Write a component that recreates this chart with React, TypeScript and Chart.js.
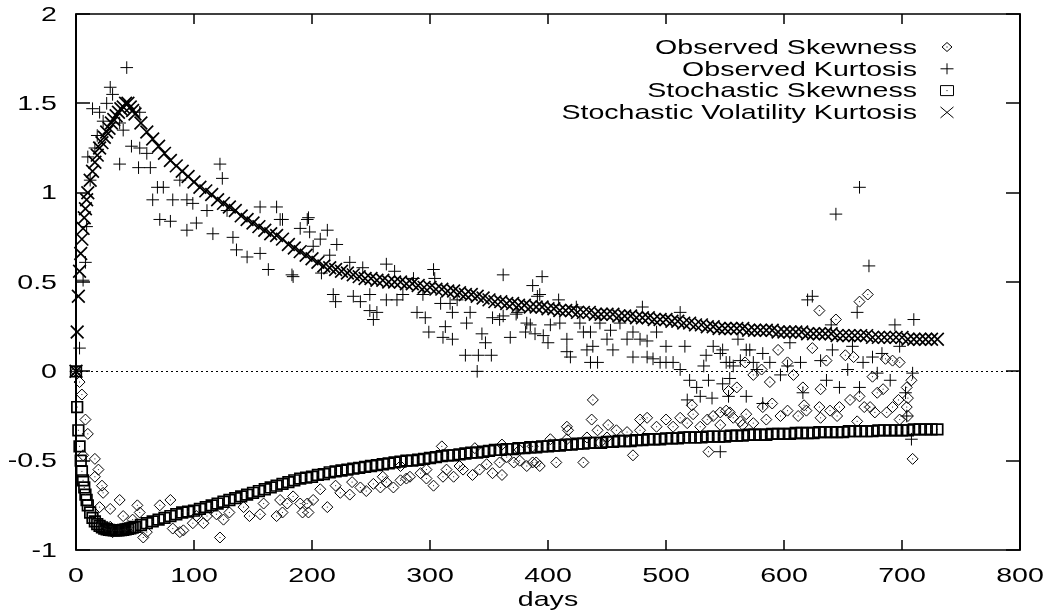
import React, { useEffect, useRef } from "react";
import { Chart, registerables } from "chart.js";

Chart.register(...registerables);

// ---------- axis ticks / labels ----------
const X_TICKS = [0, 100, 200, 300, 400, 500, 600, 700, 800];
const X_TICK_LABELS = ["0", "100", "200", "300", "400", "500", "600", "700", "800"];
const Y_TICKS = [-1, -0.5, 0, 0.5, 1, 1.5, 2];
const Y_TICK_LABELS = ["-1", "-0.5", "0", "0.5", "1", "1.5", "2"];
const X_TITLE = "days";
const SERIES_LABELS = [
  "Observed Skewness",
  "Observed Kurtosis",
  "Stochastic Skewness",
  "Stochastic Volatility Kurtosis",
];

// ---------- observed skewness (diamonds) ----------
const obsSkewDays = [
  0, 3, 5, 6, 8, 10, 16, 16, 19, 20,
  22, 23, 29, 29, 31, 37, 40, 43, 48, 52,
  54, 57, 60, 71, 80, 82, 88, 91, 99, 102,
  108, 111, 119, 122, 125, 130, 142, 147, 156, 159,
  170, 173, 175, 179, 184, 190, 192, 196, 197, 201,
  207, 213, 220, 224, 232, 234, 241, 246, 252, 258,
  260, 263, 269, 275, 275, 280, 283, 292, 297, 297,
  303, 310, 311, 314, 320, 325, 328, 336, 338, 342,
  348, 353, 359, 361, 361, 365, 371, 376, 376, 382,
  387, 387, 390, 393, 402, 407, 416, 416, 417, 430,
  433, 437, 438, 442, 444, 450, 451, 458, 467, 472,
  478, 478, 484, 492, 500, 506, 512, 518, 522, 523,
  529, 535, 536, 540, 546, 546, 551, 553, 554, 557,
  560, 563, 565, 567, 568, 574, 574, 581, 582, 585,
  588, 590, 595, 597, 603, 603, 608, 612, 616, 617,
  619, 624, 630, 630, 631, 631, 636, 639, 644, 645,
  647, 652, 656, 659, 662, 664, 664, 668, 671, 673,
  675, 677, 679, 684, 686, 687, 692, 692, 697, 698,
  698, 704, 704, 705, 705, 708, 709,
];
const obsSkewVals = [
  0.0, -0.06, -0.13, -0.47, -0.27, -0.35, -0.49, -0.59, -0.55, -0.76,
  -0.64, -0.68, -0.77, -0.87, -0.9, -0.72, -0.81, -0.89, -0.83, -0.75,
  -0.79, -0.93, -0.9, -0.75, -0.72, -0.88, -0.9, -0.89, -0.85, -0.81,
  -0.85, -0.81, -0.8, -0.93, -0.83, -0.79, -0.76, -0.81, -0.8, -0.74,
  -0.81, -0.72, -0.79, -0.74, -0.7, -0.74, -0.79, -0.74, -0.79, -0.72,
  -0.66, -0.76, -0.64, -0.68, -0.69, -0.62, -0.65, -0.67, -0.63, -0.65,
  -0.59, -0.62, -0.65, -0.61, -0.53, -0.6, -0.59, -0.57, -0.55, -0.6,
  -0.64, -0.42, -0.59, -0.55, -0.59, -0.53, -0.55, -0.58, -0.43, -0.55,
  -0.52, -0.57, -0.51, -0.41, -0.58, -0.48, -0.51, -0.5, -0.44, -0.53,
  -0.51, -0.42, -0.51, -0.53, -0.38, -0.51, -0.31, -0.38, -0.33, -0.51,
  -0.37, -0.27, -0.16, -0.33, -0.4, -0.37, -0.3, -0.33, -0.34, -0.47,
  -0.27, -0.33, -0.26, -0.31, -0.27, -0.31, -0.26, -0.29, -0.19, -0.24,
  -0.31, -0.27, -0.45, -0.25, -0.23, -0.3, -0.22, -0.11, -0.23, -0.26,
  -0.09, -0.28, -0.3, 0.05, -0.24, -0.02, -0.29, 0.01, -0.2, -0.27,
  -0.06, -0.18, 0.12, -0.25, 0.05, -0.22, -0.02, -0.25, -0.09, -0.19,
  -0.22, 0.13, 0.34, -0.2, -0.1, -0.26, 0.06, -0.22, 0.29, -0.25,
  -0.2, 0.09, -0.16, 0.08, -0.28, 0.39, -0.14, -0.2, 0.43, -0.2,
  -0.03, -0.23, -0.12, -0.1, 0.07, -0.23, 0.06, -0.2, -0.16, 0.05,
  -0.27, -0.09, -0.2, -0.15, -0.25, -0.05, -0.49,
];

// ---------- observed kurtosis (plus signs) ----------
const obsKurtDays = [
  0, 3, 6, 8, 9, 10, 12, 14, 16, 18,
  20, 23, 26, 29, 31, 37, 37, 40, 43, 47,
  53, 54, 54, 60, 63, 65, 69, 71, 74, 80,
  82, 88, 94, 94, 99, 102, 111, 116, 122, 124,
  128, 133, 136, 145, 156, 156, 163, 170, 173, 175,
  183, 184, 190, 196, 197, 198, 201, 207, 208, 213,
  215, 218, 220, 221, 232, 235, 241, 243, 249, 249,
  252, 255, 263, 263, 270, 272, 277, 286, 289, 294,
  296, 299, 303, 304, 309, 311, 313, 317, 319, 319,
  323, 330, 331, 334, 340, 341, 344, 347, 352, 353,
  359, 362, 362, 368, 373, 374, 381, 382, 385, 387,
  389, 391, 393, 395, 396, 400, 402, 409, 410, 416,
  416, 419, 424, 427, 430, 433, 436, 436, 438, 442,
  444, 450, 453, 455, 461, 467, 472, 472, 478, 480,
  484, 484, 489, 492, 495, 500, 500, 506, 512, 512,
  516, 518, 520, 526, 529, 532, 534, 536, 539, 540,
  546, 546, 548, 548, 551, 553, 554, 554, 557, 561,
  563, 568, 568, 571, 574, 577, 582, 582, 588, 597,
  603, 605, 614, 616, 620, 624, 631, 636, 640, 641,
  644, 647, 654, 658, 662, 664, 664, 667, 672, 675,
  679, 683, 690, 694, 698, 703, 704, 708, 709, 710,
];
const obsKurtVals = [
  0.0, 0.13, 0.51, 0.61, 0.81, 1.2, 1.07, 1.47, 1.25, 1.32,
  1.45, 1.4, 1.5, 1.59, 1.55, 1.39, 1.16, 1.35, 1.7, 1.26,
  1.14, 1.45, 1.25, 1.22, 1.14, 0.96, 1.03, 0.85, 1.03, 0.84,
  0.96, 1.07, 0.79, 0.96, 0.94, 0.83, 0.9, 0.77, 1.16, 1.08,
  0.9, 0.75, 0.68, 0.64, 0.92, 0.66, 0.57, 0.92, 0.85, 0.85,
  0.54, 0.53, 0.8, 0.85, 0.86, 0.78, 0.7, 0.74, 0.55, 0.79,
  0.65, 0.43, 0.39, 0.71, 0.61, 0.42, 0.39, 0.58, 0.43, 0.34,
  0.29, 0.33, 0.6, 0.4, 0.56, 0.4, 0.43, 0.52, 0.33, 0.43,
  0.3, 0.22, 0.57, 0.52, 0.38, 0.19, 0.25, 0.38, 0.18, 0.33,
  0.4, 0.09, 0.27, 0.33, 0.0, 0.09, 0.21, 0.16, 0.09, 0.3,
  0.29, 0.54, 0.31, 0.19, 0.32, 0.33, 0.22, 0.27, 0.26, 0.48,
  0.21, 0.42, 0.43, 0.53, 0.2, 0.16, 0.26, 0.4, 0.27, 0.18,
  0.11, 0.08, 0.36, 0.27, 0.22, 0.12, 0.22, 0.05, 0.14, 0.05,
  0.27, 0.18, 0.23, 0.12, 0.27, 0.18, 0.22, 0.08, 0.18, 0.36,
  0.17, 0.08, 0.07, 0.22, 0.05, 0.14, 0.05, 0.05, 0.33, 0.01,
  0.14, -0.16, -0.05, -0.09, -0.14, 0.03, 0.09, -0.05, -0.15, 0.14,
  0.1, -0.45, -0.07, 0.12, 0.05, -0.14, 0.05, -0.04, 0.03, 0.18,
  0.06, 0.12, -0.14, 0.12, 0.05, 0.01, 0.1, -0.18, 0.05, -0.02,
  0.03, 0.16, 0.05, -0.12, 0.4, 0.42, 0.06, -0.05, 0.26, 0.12,
  0.88, -0.09, 0.01, 0.14, 0.33, 1.03, -0.09, 0.05, 0.59, 0.08,
  -0.01, 0.1, -0.05, 0.26, 0.14, -0.12, -0.25, -0.38, -0.01, 0.29,
];

// ---------- stochastic model curves ----------
const modelEarlyDays = [
  0, 1, 2, 3, 4, 5, 6, 7, 8, 9, 10, 12, 14, 16, 18, 20, 22, 24, 26, 28,
  30, 32, 34, 36, 38, 40, 42, 44, 46, 48, 50,
];
const modelLateDays = Array.from({ length: 136 }, (_, i) => 55 + 5 * i); // 55 .. 730
const modelDays = [...modelEarlyDays, ...modelLateDays];

const stochSkewVals = [
  // days 0..50
  0, -0.2, -0.33, -0.42, -0.5, -0.56, -0.61, -0.65, -0.69, -0.72, -0.75,
  -0.79, -0.82, -0.84, -0.855, -0.865, -0.873, -0.88, -0.884, -0.887, -0.889,
  -0.89, -0.89, -0.89, -0.889, -0.887, -0.885, -0.882, -0.879, -0.875, -0.871,
  // days 55..730
  -0.86, -0.85, -0.84, -0.83, -0.82, -0.81, -0.8, -0.79, -0.785, -0.78,
  -0.77, -0.76, -0.75, -0.74, -0.73, -0.72, -0.71, -0.7, -0.69, -0.68,
  -0.67, -0.66, -0.65, -0.64, -0.63, -0.62, -0.61, -0.6, -0.595, -0.59,
  -0.58, -0.575, -0.565, -0.56, -0.555, -0.55, -0.545, -0.54, -0.535, -0.53,
  -0.525, -0.52, -0.515, -0.51, -0.505, -0.5, -0.5, -0.495, -0.49, -0.485,
  -0.48, -0.475, -0.47, -0.47, -0.465, -0.46, -0.455, -0.455, -0.45, -0.445,
  -0.44, -0.44, -0.435, -0.435, -0.43, -0.43, -0.425, -0.425, -0.42, -0.42,
  -0.415, -0.415, -0.41, -0.41, -0.405, -0.405, -0.4, -0.4, -0.4, -0.395,
  -0.395, -0.39, -0.39, -0.39, -0.385, -0.385, -0.38, -0.38, -0.38, -0.375,
  -0.375, -0.375, -0.37, -0.37, -0.37, -0.37, -0.365, -0.365, -0.365, -0.365,
  -0.36, -0.36, -0.36, -0.355, -0.355, -0.355, -0.355, -0.35, -0.35, -0.35,
  -0.35, -0.345, -0.345, -0.345, -0.345, -0.34, -0.34, -0.34, -0.34, -0.34,
  -0.335, -0.335, -0.335, -0.335, -0.335, -0.33, -0.33, -0.33, -0.33, -0.33,
  -0.33, -0.325, -0.325, -0.325, -0.325, -0.325,
];

const stochKurtVals = [
  // days 0..50
  0, 0.22, 0.42, 0.56, 0.66, 0.74, 0.8, 0.86, 0.91, 0.96, 1.0,
  1.07, 1.12, 1.17, 1.21, 1.25, 1.28, 1.31, 1.34, 1.36, 1.39,
  1.41, 1.43, 1.45, 1.47, 1.48, 1.5, 1.5, 1.48, 1.46, 1.44,
  // days 55..730
  1.39, 1.34, 1.3, 1.26, 1.22, 1.18, 1.15, 1.12, 1.09, 1.06,
  1.03, 1.01, 0.99, 0.96, 0.94, 0.92, 0.9, 0.87, 0.85, 0.83,
  0.81, 0.79, 0.77, 0.76, 0.74, 0.71, 0.69, 0.67, 0.65, 0.63,
  0.61, 0.59, 0.58, 0.57, 0.56, 0.55, 0.54, 0.53, 0.52, 0.52,
  0.51, 0.51, 0.5, 0.5, 0.5, 0.49, 0.49, 0.48, 0.47, 0.47,
  0.46, 0.46, 0.45, 0.45, 0.44, 0.43, 0.43, 0.42, 0.41, 0.4,
  0.39, 0.39, 0.38, 0.38, 0.37, 0.37, 0.36, 0.36, 0.36, 0.35,
  0.35, 0.34, 0.34, 0.34, 0.33, 0.33, 0.33, 0.32, 0.32, 0.32,
  0.32, 0.31, 0.31, 0.31, 0.3, 0.3, 0.3, 0.29, 0.29, 0.29,
  0.28, 0.28, 0.27, 0.27, 0.26, 0.26, 0.25, 0.25, 0.24, 0.24,
  0.24, 0.24, 0.24, 0.23, 0.23, 0.23, 0.23, 0.23, 0.22, 0.22,
  0.22, 0.22, 0.22, 0.21, 0.21, 0.21, 0.21, 0.21, 0.2, 0.2,
  0.2, 0.2, 0.2, 0.2, 0.19, 0.19, 0.19, 0.19, 0.19, 0.19,
  0.18, 0.18, 0.18, 0.18, 0.18, 0.18,
];

// ---------- drawing helpers ----------
const FONT = '21px "Liberation Sans", Arial, Helvetica, sans-serif';
const SX = 1.36; // the reference text is horizontally stretched

function stretchedText(
  ctx: CanvasRenderingContext2D,
  text: string,
  x: number,
  y: number,
  align: CanvasTextAlign,
  baseline: CanvasTextBaseline
) {
  ctx.save();
  ctx.translate(x, y);
  ctx.scale(SX, 1);
  ctx.font = FONT;
  ctx.fillStyle = "#000";
  ctx.textAlign = align;
  ctx.textBaseline = baseline;
  ctx.fillText(text, 0, 0);
  ctx.restore();
}

function legendSymbol(ctx: CanvasRenderingContext2D, kind: number, x: number, y: number) {
  ctx.save();
  ctx.strokeStyle = "#000";
  ctx.fillStyle = "#000";
  ctx.lineWidth = 1;
  ctx.beginPath();
  if (kind === 0) {
    ctx.moveTo(x - 5, y);
    ctx.lineTo(x, y - 4.5);
    ctx.lineTo(x + 5, y);
    ctx.lineTo(x, y + 4.5);
    ctx.closePath();
    ctx.stroke();
    ctx.fillRect(x - 0.5, y - 0.5, 1, 1);
  } else if (kind === 1) {
    ctx.moveTo(x - 6.5, y);
    ctx.lineTo(x + 6.5, y);
    ctx.moveTo(x, y - 5.5);
    ctx.lineTo(x, y + 5.5);
    ctx.stroke();
  } else if (kind === 2) {
    ctx.rect(x - 6.5, y - 5, 13, 10);
    ctx.stroke();
    ctx.fillRect(x - 0.5, y - 0.5, 1, 1);
  } else {
    ctx.moveTo(x - 6.5, y - 5.5);
    ctx.lineTo(x + 6.5, y + 5.5);
    ctx.moveTo(x + 6.5, y - 5.5);
    ctx.lineTo(x - 6.5, y + 5.5);
    ctx.stroke();
  }
  ctx.restore();
}

const gnuplotPlugin = {
  id: "gnuplotFrame",
  beforeDatasetsDraw(chart: any) {
    const { ctx, chartArea: a, scales } = chart;
    const y0 = Math.round(scales.y.getPixelForValue(0)) + 0.5;
    ctx.save();
    ctx.strokeStyle = "#000";
    ctx.lineWidth = 1;
    ctx.setLineDash([2, 3]);
    ctx.beginPath();
    ctx.moveTo(a.left, y0);
    ctx.lineTo(a.right, y0);
    ctx.stroke();
    ctx.restore();
  },
  afterDatasetsDraw(chart: any) {
    const { ctx, chartArea: a, scales } = chart;
    const xs = scales.x;
    const ys = scales.y;

    // centre dots of diamonds and squares
    ctx.save();
    ctx.fillStyle = "#222";
    [0, 2].forEach((di) => {
      chart.getDatasetMeta(di).data.forEach((pt: any) => {
        ctx.fillRect(pt.x - 0.5, pt.y - 0.5, 1, 1);
      });
    });
    ctx.restore();

    // frame
    ctx.save();
    ctx.strokeStyle = "#000";
    ctx.lineWidth = 2;
    ctx.beginPath();
    ctx.moveTo(a.left, a.top);
    ctx.lineTo(a.left, a.bottom);
    ctx.moveTo(a.right, a.top);
    ctx.lineTo(a.right, a.bottom);
    ctx.stroke();
    ctx.lineWidth = 1.6;
    ctx.beginPath();
    ctx.moveTo(a.left - 1, a.top);
    ctx.lineTo(a.right + 1, a.top);
    ctx.moveTo(a.left - 1, a.bottom);
    ctx.lineTo(a.right + 1, a.bottom);
    ctx.stroke();

    // inward ticks (mirrored)
    ctx.lineWidth = 1.5;
    ctx.beginPath();
    X_TICKS.forEach((v) => {
      const px = Math.round(xs.getPixelForValue(v));
      ctx.moveTo(px, a.bottom);
      ctx.lineTo(px, a.bottom - 10);
      ctx.moveTo(px, a.top);
      ctx.lineTo(px, a.top + 10);
    });
    Y_TICKS.forEach((v) => {
      const py = Math.round(ys.getPixelForValue(v));
      ctx.moveTo(a.left, py);
      ctx.lineTo(a.left + 14, py);
      ctx.moveTo(a.right, py);
      ctx.lineTo(a.right - 14, py);
    });
    ctx.stroke();
    ctx.restore();

    // tick labels
    X_TICKS.forEach((v, i) => {
      stretchedText(ctx, X_TICK_LABELS[i], xs.getPixelForValue(v), a.bottom + 32, "center", "alphabetic");
    });
    Y_TICKS.forEach((v, i) => {
      stretchedText(ctx, Y_TICK_LABELS[i], a.left - 19, ys.getPixelForValue(v) + 1, "right", "middle");
    });

    // axis title
    stretchedText(ctx, X_TITLE, (a.left + a.right) / 2, a.bottom + 56, "center", "alphabetic");

    // legend (text right-aligned, symbol on the right)
    SERIES_LABELS.forEach((lab, i) => {
      const cy = a.top + 33 + i * 21.8;
      stretchedText(ctx, lab, a.right - 103, cy + 1, "right", "middle");
      legendSymbol(ctx, i, a.right - 73, cy);
    });
  },
};

function pts(days: number[], vals: number[]) {
  return days.map((d, i) => ({ x: d, y: vals[i] }));
}

export default function App() {
  const ref = useRef<HTMLCanvasElement | null>(null);

  useEffect(() => {
    if (!ref.current) return;
    const common = {
      showLine: false,
      borderColor: "#000",
      backgroundColor: "rgba(0,0,0,0)",
      borderWidth: 1,
      clip: false as any,
    };
    const chart = new Chart(ref.current, {
      type: "scatter",
      data: {
        datasets: [
          {
            ...common,
            label: SERIES_LABELS[0],
            data: pts(obsSkewDays, obsSkewVals),
            pointStyle: "rectRot",
            pointRadius: 5.5,
            order: 3,
          },
          {
            ...common,
            label: SERIES_LABELS[1],
            data: pts(obsKurtDays, obsKurtVals),
            pointStyle: "cross",
            pointRadius: 6.3,
            order: 2,
          },
          {
            ...common,
            label: SERIES_LABELS[2],
            data: pts(modelDays, stochSkewVals),
            pointStyle: "rect",
            pointRadius: 7.5,
            borderWidth: 1.7,
            order: 1,
          },
          {
            ...common,
            label: SERIES_LABELS[3],
            data: pts(modelDays, stochKurtVals),
            pointStyle: "crossRot",
            pointRadius: 9,
            borderWidth: 1.7,
            order: 0,
          },
        ],
      },
      options: {
        responsive: false,
        animation: false,
        devicePixelRatio: 1,
        events: [],
        layout: { padding: { left: 76, top: 14, right: 29, bottom: 63 } },
        scales: {
          x: { type: "linear", min: 0, max: 800, display: false },
          y: { type: "linear", min: -1, max: 2, display: false },
        },
        plugins: {
          legend: { display: false },
          tooltip: { enabled: false },
        },
      },
      plugins: [gnuplotPlugin],
    });
    return () => chart.destroy();
  }, []);

  return (
    <div style={{ position: "absolute", left: 0, top: 0, width: 1049, height: 613, background: "#fff" }}>
      <canvas ref={ref} width={1049} height={613} style={{ display: "block", width: 1049, height: 613 }} />
    </div>
  );
}
